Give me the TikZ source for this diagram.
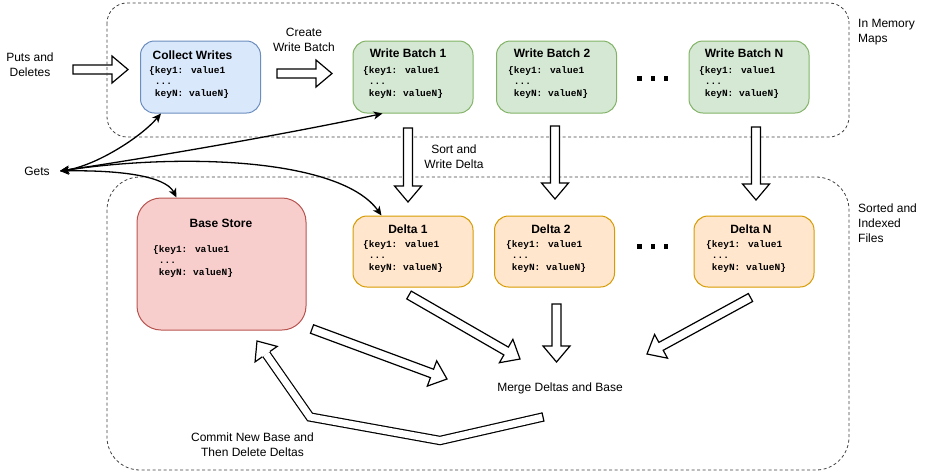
\documentclass[tikz,border=0pt]{standalone}
\usepackage{fontspec}
\setmainfont{Liberation Sans}
\newfontfamily\codefont{Liberation Mono}
\usetikzlibrary{calc,arrows.meta}
\definecolor{cwfill}{HTML}{DAE8FC}\definecolor{cwline}{HTML}{6C8EBF}
\definecolor{wbfill}{HTML}{D5E8D4}\definecolor{wbline}{HTML}{82B366}
\definecolor{dfill}{HTML}{FFE6CC}\definecolor{dline}{HTML}{D79B00}
\definecolor{bfill}{HTML}{F8CECC}\definecolor{bline}{HTML}{B85450}
\newcommand{\blockarrow}[2]{%
  \coordinate (hb) at ($(#2)!16pt!(#1)$);
  \draw[barr] ($(#1)!4.5pt!90:(#2)$) -- ($(hb)!4.5pt!90:(#2)$) -- ($(hb)!13.5pt!90:(#2)$) -- (#2) -- ($(hb)!13.5pt!-90:(#2)$) -- ($(hb)!4.5pt!-90:(#2)$) -- ($(#1)!4.5pt!-90:(#2)$) -- cycle;
}
\newcommand{\kvtext}{\vtop{\baselineskip=11.5pt\hbox{\{key1: value1}\hbox{\ ...}\hbox{\ keyN: valueN\}}}}
\begin{document}
\begin{tikzpicture}[x=1pt,y=-1pt,
  barr/.style={draw=black, fill=white, line width=1.2pt, line join=miter},
  cont/.style={draw=black!75, line width=0.8pt, dash pattern=on 3pt off 2.5pt},
  box/.style={line width=1pt, rounded corners=14pt, inner sep=0},
  lbl/.style={font=\fontsize{12}{15}\selectfont, align=center, inner sep=0},
  ttl/.style={font=\fontsize{12}{15}\selectfont\bfseries, inner sep=0},
  code/.style={font=\codefont\fontsize{9.5}{11.5}\selectfont\bfseries, anchor=base west, inner sep=0},
  dot/.style={fill=black, minimum size=4.5pt, inner sep=0},
  getarr/.style={line width=1.3pt, {Stealth[length=9pt,width=8pt,inset=2.5pt]}-{Stealth[length=9pt,width=8pt,inset=2.5pt]}}]
\useasboundingbox (0,0) rectangle (927,475);

% Puts arrow (under container)
\coordinate (pa1) at (73,69.5); \coordinate (pa2) at (128,69.5);
\blockarrow{pa1}{pa2}

% containers
\draw[cont, rounded corners=20pt] (107,3) rectangle (849,137);
\draw[cont, rounded corners=33pt] (107,177) rectangle (849,470);

% boxes
\node[box, fill=cwfill, draw=cwline, minimum width=120pt, minimum height=72pt] (cw) at (200.5,77) {};
\node[box, fill=wbfill, draw=wbline, minimum width=120pt, minimum height=72pt] (wb1) at (413,77) {};
\node[box, fill=wbfill, draw=wbline, minimum width=120pt, minimum height=72pt] (wb2) at (556.5,77) {};
\node[box, fill=wbfill, draw=wbline, minimum width=120pt, minimum height=72pt] (wbn) at (749,77) {};
\node[box, fill=bfill, draw=bline, minimum width=169pt, minimum height=132pt, rounded corners=24pt] (base) at (221.5,264) {};
\node[box, fill=dfill, draw=dline, minimum width=120pt, minimum height=71pt] (d1) at (413,251.5) {};
\node[box, fill=dfill, draw=dline, minimum width=120pt, minimum height=71pt] (d2) at (554.5,251.5) {};
\node[box, fill=dfill, draw=dline, minimum width=120pt, minimum height=71pt] (dn) at (754,251.5) {};

% titles
\node[ttl] (tcw) at (192.5,55) {Collect Writes};
\node[ttl] (twb1) at (408,53) {Write Batch 1};
\node[ttl] (twb2) at (552,53) {Write Batch 2};
\node[ttl] (twbn) at (744,53) {Write Batch N};
\node[ttl] (tbase) at (221,223) {Base Store};
\node[ttl] (td1) at (408,229) {Delta 1};
\node[ttl] (td2) at (551,229) {Delta 2};
\node[ttl] (tdn) at (751,229) {Delta N};

% code
\node[code] (ccw) at (149,73) {\kvtext};
\node[code] (cwb1) at (363,73) {\kvtext};
\node[code] (cwb2) at (508,73) {\kvtext};
\node[code] (cwbn) at (699,73) {\kvtext};
\node[code] (cbase) at (153,252) {\kvtext};
\node[code] (cd1) at (363,247) {\kvtext};
\node[code] (cd2) at (506,247) {\kvtext};
\node[code] (cdn) at (706,247) {\kvtext};

% dots
\node[dot] (u1) at (639.5,78.5) {}; \node[dot] (u2) at (653,78.5) {}; \node[dot] (u3) at (666,78.5) {};
\node[dot] (l1) at (639.5,246.5) {}; \node[dot] (l2) at (653,246.5) {}; \node[dot] (l3) at (666,246.5) {};

% labels
\node[lbl] (puts) at (30,64.5) {Puts and\\Deletes};
\node[lbl] (create) at (304,39.5) {Create\\Write Batch};
\node[lbl, anchor=west, align=left] (imm) at (858,32.5) {In Memory\\Maps};
\node[lbl, anchor=west, align=left] (sif) at (858,223) {Sorted and\\Indexed\\Files};
\node[lbl] (sort) at (454,156.5) {Sort and\\Write Delta};
\node[lbl] (gets) at (37,171) {Gets};
\node[lbl] (merge) at (560,388) {Merge Deltas and Base};
\node[lbl] (commit) at (252.5,444.5) {Commit New Base and\\Then Delete Deltas};

% block arrows
\coordinate (ca1) at (277,73.5); \coordinate (ca2) at (332,73.5);
\blockarrow{ca1}{ca2}
\coordinate (v1a) at (408,128); \coordinate (v1b) at (408,202);
\blockarrow{v1a}{v1b}
\coordinate (v2a) at (555,126); \coordinate (v2b) at (555,199);
\blockarrow{v2a}{v2b}
\coordinate (vna) at (756,127); \coordinate (vnb) at (756,200);
\blockarrow{vna}{vnb}
\coordinate (m1a) at (409,295); \coordinate (m1b) at (520,359);
\blockarrow{m1a}{m1b}
\coordinate (m2a) at (556.5,304); \coordinate (m2b) at (556.5,362);
\blockarrow{m2a}{m2b}
\coordinate (mna) at (750.5,297.5); \coordinate (mnb) at (647,354);
\blockarrow{mna}{mnb}
\coordinate (mba) at (312,329); \coordinate (mbb) at (447,379);
\blockarrow{mba}{mbb}

% bent commit arrow
\coordinate (cR) at (543,417); \coordinate (cV) at (440,440.5);
\coordinate (cE) at (310,417); \coordinate (cT) at (257,341);
\coordinate (chb) at ($(cT)!16pt!(cE)$);
\draw[line width=1.2pt, double=white, double distance=7pt, line join=miter] (cR) -- (cV) -- (cE) -- (chb);
\draw[line width=1.2pt] ($(cR)!4.7pt!90:(cV)$) -- ($(cR)!4.7pt!-90:(cV)$);
\fill[white] ($(chb)!13.5pt!90:(cT)$) -- (cT) -- ($(chb)!13.5pt!-90:(cT)$) -- cycle;
\draw[line width=1.2pt, line join=miter] ($(chb)!4.7pt!90:(cT)$) -- ($(chb)!13.5pt!90:(cT)$) -- (cT) -- ($(chb)!13.5pt!-90:(cT)$) -- ($(chb)!4.7pt!-90:(cT)$);

% gets connectors
\coordinate (g) at (60,171);
\draw[getarr] (g) .. controls (95,166) and (140,138) .. ($(cw.south west)+(21,0)$);
\draw[getarr] (g) .. controls (200,150) and (330,125) .. ($(wb1.south west)+(30,0)$);
\draw[getarr] (g) .. controls (190,152) and (342,160) .. ($(d1.north west)+(29,0)$);
\draw[getarr] (g) .. controls (115,170) and (165,175) .. ($(base.north west)+(40,0)$);
\end{tikzpicture}
\end{document}
